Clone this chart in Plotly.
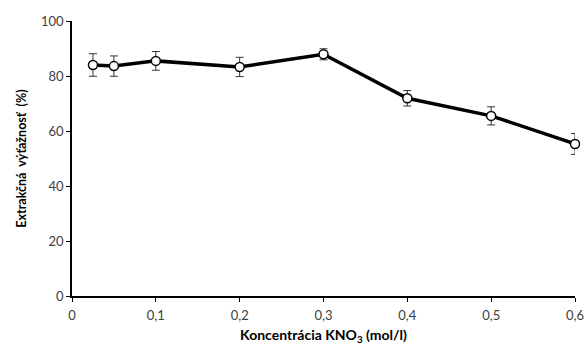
import plotly.graph_objects as go

conc = [0.025, 0.05, 0.1, 0.2, 0.3, 0.4, 0.5, 0.6]
yield_pct = [84.0, 83.6, 85.5, 83.3, 87.9, 71.9, 65.5, 55.3]
err = [4.1, 3.7, 3.4, 3.5, 2.0, 2.8, 3.3, 3.8]
x_ticks = [0, 0.1, 0.2, 0.3, 0.4, 0.5, 0.6]
x_tick_labels = ["0", "0,1", "0,2", "0,3", "0,4", "0,5", "0,6"]
y_ticks = [0, 20, 40, 60, 80, 100]

fig = go.Figure()
fig.add_trace(go.Scatter(
    x=conc, y=yield_pct, mode="lines+markers",
    line=dict(color="black", width=3.5),
    marker=dict(symbol="circle", size=9, color="white", line=dict(color="black", width=1.5)),
    error_y=dict(type="data", array=err, visible=True, color="#333333", thickness=1, width=4),
    showlegend=False,
    cliponaxis=False,
))

font_family = "Lato, 'Open Sans', sans-serif"
fig.update_layout(
    width=584, height=349,
    margin=dict(l=72, r=9, t=21, b=53),
    paper_bgcolor="white", plot_bgcolor="white",
    font=dict(family=font_family, color="#404040", size=12),
    xaxis=dict(
        range=[0, 0.6], tickvals=x_ticks, ticktext=x_tick_labels,
        showline=True, linecolor="black", linewidth=1.5,
        ticks="outside", ticklen=4, tickcolor="black",
        showgrid=False, zeroline=False, automargin=False,
        ticklabeloverflow="allow", ticklabelstandoff=3,
        tickfont=dict(size=13, color="#404040"),
        title=dict(text="<b>Koncentrácia KNO<sub>3</sub> (mol/l)</b>",
                   font=dict(size=14, color="black"), standoff=8),
    ),
    yaxis=dict(
        range=[0, 100], tickvals=y_ticks,
        showline=True, linecolor="black", linewidth=1.5,
        ticks="outside", ticklen=4, tickcolor="black",
        showgrid=False, zeroline=False, automargin=False,
        ticklabeloverflow="allow",
        tickfont=dict(size=13, color="#404040"),
        title=dict(text="<b>Extrakčná  výťažnosť  (%)</b>",
                   font=dict(size=12.5, color="black"), standoff=12),
    ),
)

fig.write_html("out.html", config={"displayModeBar": False},
               post_script="document.body.style.margin='0';document.body.style.overflow='hidden';")
